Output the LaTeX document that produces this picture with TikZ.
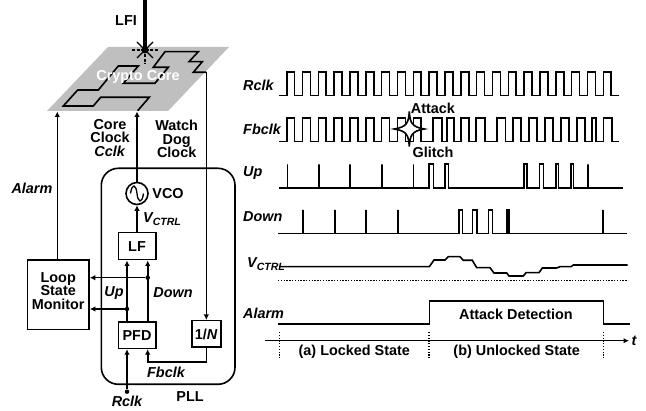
\documentclass[tikz,border=0pt]{standalone}
\usepackage{fontspec}
\setmainfont{Liberation Sans}
\usetikzlibrary{arrows.meta}
\tikzset{
  every node/.style={font=\fontsize{14.4}{13.8}\selectfont\bfseries, inner sep=0pt},
  ln/.style={line width=1.6pt, line join=miter},
  arr/.style={ln, -{Latex[length=5.5pt,width=5.5pt]}},
  blk/.style={draw, line width=1.6pt, fill=white, align=center},
  lab/.style={font=\fontsize{14.4}{13.8}\selectfont\bfseries\itshape},
  lbl/.style={font=\fontsize{14.4}{13.8}\selectfont\bfseries, align=center},
  dotc/.style={circle, fill=black, minimum size=4.5pt},
  wave/.style={line width=1.6pt, line join=miter},
  dotline/.style={line width=1.4pt, dash pattern=on 1.3pt off 1.5pt},
}
\newcommand{\vctrl}{V\raisebox{-3pt}{\fontsize{10.5}{10.5}\selectfont CTRL}}
\begin{document}
\begin{tikzpicture}[x=1pt,y=-1pt]
\useasboundingbox (0,0) rectangle (646,411);
% crypto core
\fill[black!25] (47,111) -- (108,47) -- (229,47) -- (168,111) -- cycle;
\draw[ln] (137.7,110.7) -- (149.3,97.3) -- (100.7,97.3) -- (93.3,106) -- (63.3,106) -- (77.7,90) -- (98.3,90) -- (118.3,66) -- (138.3,66) -- (123.3,83.3) -- (155,83.3) -- (168.3,67.3) -- (153.3,67.3) -- (165,51.7) -- (198.3,51.7) -- (189,61.7) -- (202.3,61.7) -- (193.3,72.3) -- (206.3,72.3);
\node[lbl, text=white] (core) at (138,77) {Crypto Core};
% laser
\node[circle, fill=black, minimum size=7pt] (spot) at (145,50) {};
\coordinate (beamtop) at (145,0);
\draw[line width=3.6pt] (beamtop) -- (spot.center);
\draw[line width=1.2pt] (137,42) -- (153,58) (153,42) -- (137,58);
\draw[line width=1.2pt, dash pattern=on 3pt off 1.5pt] (132,50) -- (158,50) (145,50) -- (145,64);
\node[lbl] (lfi) at (126,21) {LFI};
% blocks
\draw[line width=1.6pt, rounded corners=17pt] (101.3,168.3) rectangle (235,384.3);
\node[blk, minimum width=37.4pt, minimum height=27pt] (lf) at (137,246.2) {LF};
\node[blk, minimum width=37.4pt, minimum height=26.4pt] (pfd) at (137,335.2) {PFD};
\node[blk, minimum width=29pt, minimum height=26.6pt] (div) at (206.2,334) {1/\textit{N}};
\node[blk, minimum width=61.7pt, minimum height=69.3pt] (mon) at (58.2,294.7) {};
\node[lbl] (monl) at (58.2,291) {Loop\\State\\Monitor};
\node[circle, draw, line width=1.6pt, minimum size=22pt, fill=white] (vco) at (137,193.5) {};
\draw[line width=1.3pt] (130.5,193.5) .. controls (132,183) and (136,184) .. (137,193.5) .. controls (138,203) and (142,204) .. (143.5,193.5);
% tops
\coordinate (cclktop) at (137,111.5);
\coordinate (alarmtop) at (57.3,111.5);
\coordinate (wdtop) at (206.3,72.3);
\coordinate (rclkin) at (127,391.7);
\coordinate (upx) at (127,300);
\coordinate (dnx) at (147.7,300);
\coordinate (fbcorner) at (206.3,362.3);
\draw[arr] (vco.north) -- (cclktop);
\draw[arr] (lf.north) -- (vco.south);
\draw[arr] (mon.north -| alarmtop) -- (alarmtop);
\draw[arr] (wdtop) -- (div.north -| wdtop);
\draw[arr] (pfd.north -| upx) -- (lf.south -| upx);
\draw[arr] (pfd.north -| dnx) -- (lf.south -| dnx);
\node[dotc] (upd) at (127,309) {};
\node[dotc] (dnd) at (147.7,277.7) {};
\draw[arr] (upd) -- (mon.east |- upd);
\draw[arr] (dnd) -- (mon.east |- dnd);
\node[dotc] (rd) at (rclkin) {};
\draw[arr] (rd) -- (pfd.south -| rd);
\draw[arr] (div.south -| fbcorner) -- (fbcorner) -| (pfd.south -| dnx);
% left labels
\node[lbl] (a1) at (110,138) {Core\\Clock\\\textit{Cclk}};
\node[lbl] (a2) at (176.7,139) {Watch\\Dog\\Clock};
\node[lab] (a3) at (32,188) {Alarm};
\node[lbl] (a5) at (168,193.5) {VCO};
\node[lab, anchor=west] (a6) at (143,219) {\vctrl};
\node[lab] (a7) at (114,292.7) {Up};
\node[lab] (a8) at (173,293) {Down};
\node[lab] (a9) at (166,372.7) {Fbclk};
\node[lab] (a10) at (127,401) {Rclk};
\node[lbl] (a11) at (190,397) {PLL};
% timing labels
\node[lab, anchor=west] (t1) at (243,85) {Rclk};
\node[lab, anchor=west] (t2) at (243,129) {Fbclk};
\node[lab, anchor=west] (t3) at (243,173) {Up};
\node[lab, anchor=west] (t4) at (243,217) {Down};
\node[lab, anchor=west] (t5) at (247,264) {\vctrl};
\node[lab, anchor=west] (t6) at (243,313) {Alarm};
% Rclk
\draw[wave] (279.3,95.7) foreach \i in {0,...,20} { -- ({286.7+15.83*\i},95.7) -- ({286.7+15.83*\i},72.3) -- ({294.6+15.83*\i},72.3) -- ({294.6+15.83*\i},95.7) } -- (619,95.7);
% Fbclk
\draw[wave] (279.3,141.7) foreach \i in {0,...,8} { -- ({286.7+15.83*\i},141.7) -- ({286.7+15.83*\i},118.3) -- ({294.6+15.83*\i},118.3) -- ({294.6+15.83*\i},141.7) }
 foreach \a/\b in {433/441.7,447/454,461/469,476/485,497/505.5,513/521,529/537,545/553,561/569,577/585,592/595.7,603.3/611.7} { -- (\a,141.7) -- (\a,118.3) -- (\b,118.3) -- (\b,141.7) } -- (619,141.7);
% Glitch star
\draw[line width=1.6pt, fill=white, line join=miter] (409.3,111.5) .. controls (410,123) and (412,127) .. (424.3,129) .. controls (412,131) and (410,135) .. (409.3,146.5) .. controls (408.6,135) and (406.6,131) .. (394.3,129) .. controls (406.6,127) and (408.6,123) .. (409.3,111.5) -- cycle;
\node[lbl] (atk) at (433,108) {Attack};
\node[lbl] (gli) at (433,152) {Glitch};
% Up
\draw[wave] (279,188) foreach \a/\b in {287.3/287.3,319/319,350/350,382/382,413.3/413.3,429/433.3,445/448.3,524/526.7,539.3/543.3,555.7/558.3,571/573.3,587.7/587.7} { -- (\a,188) -- (\a,164.3) -- (\b,164.3) -- (\b,188) } -- (623,188);
% Down
\draw[wave] (278.3,233.7) foreach \a/\b in {303/303,334.7/334.7,366/366,397.7/397.7,459/462.3,472.3/476.7,488.3/492.3,506.7/509,603/603} { -- (\a,233.7) -- (\a,210) -- (\b,210) -- (\b,233.7) } -- (626.7,233.7);
% VCTRL
\draw[wave] (279,266.7) -- (429.3,266.7) -- (434,260) -- (445,260) -- (448.3,256.7) -- (460,256.7) -- (463.3,260.3) -- (472.3,260.3) -- (476.7,267.7) -- (490,267.7) -- (494,273) -- (506.7,273) -- (509,276) -- (523.3,276) -- (526,272.7) -- (539,272.7) -- (542.3,268) -- (556.7,268) -- (560,266.7) -- (571,266.7) -- (573.3,265) -- (627.7,265);
\draw[dotline] (278,280.7) -- (628,280.7);
% Alarm
\draw[wave] (278.3,324.3) -- (429.3,324.3) -- (429.3,301.3) -- (603.3,301.3) -- (603.3,324.3) -- (630,324.3);
\node[lbl] (ad) at (516,314) {Attack Detection};
% axis
\coordinate (axl) at (265,340.7);
\coordinate (axr) at (629,340.7);
\draw[line width=1.4pt, -{Latex[length=5.5pt,width=5.5pt]}] (axl) -- (axr);
\node[lab] (tt) at (634,340.7) {t};
\draw[dotline] (279.3,332) -- (279.3,359);
\draw[dotline] (429,332) -- (429,359);
\draw[dotline] (603.7,332) -- (603.7,359);
\node[lbl] (s1) at (354.3,351.7) {(a) Locked State};
\node[lbl] (s2) at (516.7,351.7) {(b) Unlocked State};
\end{tikzpicture}
\end{document}
